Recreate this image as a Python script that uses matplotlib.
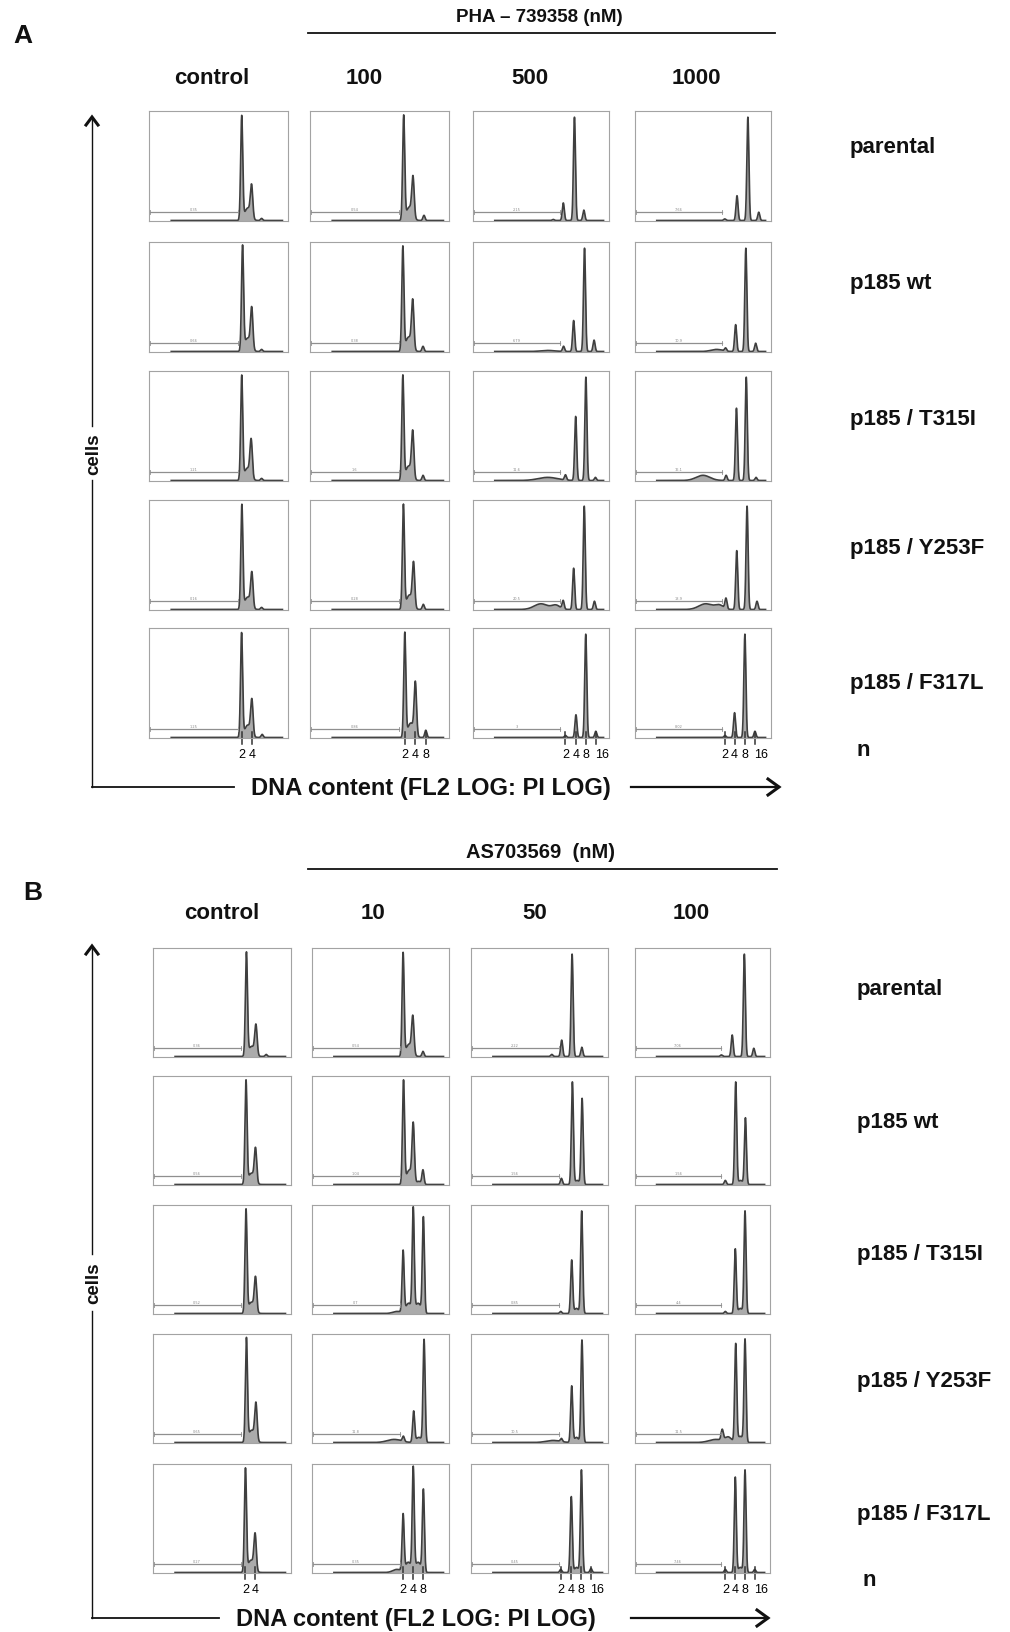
from __future__ import annotations

import matplotlib

matplotlib.use("Agg")
import matplotlib.pyplot as plt  # noqa: E402
import numpy as np  # noqa: E402

FIG_W = 1010
FIG_H = 1633

ROW_LABELS = ["parental", "p185 wt", "p185 / T315I", "p185 / Y253F", "p185 / F317L"]
PLOIDY_LABELS = ["2", "4", "8", "16"]

A_DRUG = "PHA \u2013 739358 (nM)"
A_DOSES = ["control", "100", "500", "1000"]
B_DRUG = "AS703569  (nM)"
B_DOSES = ["control", "10", "50", "100"]

# each histogram is a list of peaks: (channel 0-100, relative height, width)
A_PARENTAL = [
    [(66.7, 1.0, 0.75), (73.8, 0.30, 0.85), (71.0, 0.12, 2.2), (81.0, 0.02, 0.75)],
    [(67.4, 1.0, 0.75), (74.1, 0.37, 0.85), (71.5, 0.13, 2.2), (82.0, 0.05, 0.75)],
    [(59.0, 0.01, 0.8), (66.4, 0.17, 0.75), (74.6, 1.0, 0.75), (81.5, 0.10, 0.75)],
    [(66.0, 0.015, 0.8), (75.0, 0.24, 0.75), (83.0, 1.0, 0.75), (91.0, 0.08, 0.75)],
]
A_WT = [
    [(67.3, 1.0, 0.75), (73.9, 0.38, 0.85), (71.0, 0.13, 2.2), (81.0, 0.02, 0.75)],
    [(66.8, 1.0, 0.75), (73.9, 0.45, 0.85), (71.0, 0.14, 2.2), (81.3, 0.05, 0.75)],
    [(66.6, 0.05, 0.75), (74.0, 0.30, 0.75), (82.0, 1.0, 0.75), (89.0, 0.11, 0.75), (55.0, 0.01, 5.0)],
    [(66.6, 0.03, 0.75), (74.0, 0.26, 0.75), (81.5, 1.0, 0.75), (88.7, 0.08, 0.75), (60.0, 0.02, 4.0)],
]
A_T315I = [
    [(66.7, 1.0, 0.75), (73.5, 0.35, 0.85), (70.8, 0.12, 2.2), (81.0, 0.02, 0.75)],
    [(66.8, 1.0, 0.75), (73.9, 0.43, 0.85), (71.0, 0.14, 2.2), (81.3, 0.05, 0.75)],
    [(68.0, 0.05, 0.75), (75.5, 0.62, 0.75), (83.0, 1.0, 0.75), (90.0, 0.03, 0.75), (55.0, 0.03, 7.0)],
    [(67.0, 0.05, 0.75), (74.6, 0.70, 0.75), (81.8, 1.0, 0.75), (89.0, 0.03, 0.75), (50.0, 0.05, 5.0)],
]
A_Y253F = [
    [(66.8, 1.0, 0.75), (74.0, 0.32, 0.85), (71.0, 0.12, 2.2), (81.0, 0.02, 0.75)],
    [(67.2, 1.0, 0.75), (74.5, 0.41, 0.85), (71.5, 0.14, 2.2), (81.5, 0.05, 0.75)],
    [(66.3, 0.08, 0.75), (74.0, 0.40, 0.75), (81.8, 1.0, 0.75), (89.3, 0.08, 0.75),
     (50.0, 0.055, 5.0), (61.0, 0.04, 3.0)],
    [(66.9, 0.10, 0.75), (74.8, 0.57, 0.75), (82.4, 1.0, 0.75), (89.7, 0.08, 0.75),
     (52.0, 0.055, 5.0), (62.0, 0.04, 3.0)],
]
A_F317L = [
    [(66.6, 1.0, 0.75), (74.0, 0.33, 0.85), (71.0, 0.12, 2.2), (81.4, 0.03, 0.75)],
    [(68.2, 1.0, 0.75), (75.8, 0.50, 0.85), (72.5, 0.14, 2.2), (83.3, 0.07, 0.75)],
    [(68.0, 0.02, 0.75), (75.7, 0.22, 0.75), (82.9, 1.0, 0.75), (90.3, 0.06, 0.75)],
    [(66.2, 0.02, 0.75), (73.2, 0.24, 0.75), (80.8, 1.0, 0.75), (88.2, 0.06, 0.75)],
]
A_TICKS = [[66.6, 74.0], [68.2, 75.8, 83.3], [68.0, 75.7, 82.9, 90.3], [66.2, 73.2, 80.8, 88.2]]

B_PARENTAL = [
    [(67.7, 1.0, 0.75), (74.6, 0.28, 0.85), (71.5, 0.10, 2.2), (82.0, 0.02, 0.75)],
    [(66.5, 1.0, 0.75), (73.6, 0.35, 0.85), (70.8, 0.12, 2.2), (81.0, 0.05, 0.75)],
    [(59.0, 0.02, 0.8), (66.2, 0.16, 0.75), (73.8, 1.0, 0.75), (80.9, 0.09, 0.75)],
    [(64.0, 0.015, 0.8), (72.0, 0.21, 0.75), (81.0, 1.0, 0.75), (88.0, 0.08, 0.75)],
]
B_WT = [
    [(67.4, 1.0, 0.75), (74.3, 0.32, 0.85), (71.3, 0.11, 2.2)],
    [(66.8, 1.0, 0.75), (73.9, 0.55, 0.85), (81.0, 0.14, 0.75), (71.0, 0.14, 2.2), (78.0, 0.03, 1.5)],
    [(66.0, 0.06, 0.75), (74.0, 1.0, 0.75), (81.1, 0.84, 0.75), (77.5, 0.04, 1.5)],
    [(66.9, 0.04, 0.75), (74.6, 1.0, 0.75), (81.8, 0.65, 0.75), (78.2, 0.04, 1.5)],
]
B_T315I = [
    [(67.4, 1.0, 0.75), (74.3, 0.32, 0.85), (71.3, 0.11, 2.2)],
    [(66.5, 0.60, 0.75), (73.9, 1.0, 0.75), (81.3, 0.93, 0.75), (70.5, 0.10, 2.0),
     (77.5, 0.10, 2.0), (62.0, 0.02, 3.0)],
    [(65.5, 0.02, 0.75), (73.5, 0.52, 0.75), (80.8, 1.0, 0.75), (77.0, 0.05, 1.5)],
    [(66.9, 0.02, 0.75), (74.3, 0.63, 0.75), (81.5, 1.0, 0.75), (78.0, 0.05, 1.5)],
]
B_Y253F = [
    [(67.7, 1.0, 0.75), (74.6, 0.35, 0.85), (71.5, 0.12, 2.2)],
    [(66.7, 0.05, 0.75), (74.2, 0.30, 0.75), (81.8, 1.0, 0.75), (60.0, 0.03, 5.0), (78.0, 0.05, 2.0)],
    [(66.0, 0.03, 0.75), (73.5, 0.55, 0.75), (81.0, 1.0, 0.75), (60.0, 0.02, 5.0), (77.0, 0.05, 1.5)],
    [(64.6, 0.10, 0.8), (74.6, 0.95, 0.75), (81.5, 1.0, 0.75), (60.0, 0.03, 5.0),
     (78.0, 0.06, 2.0), (69.0, 0.05, 2.5)],
]
B_F317L = [
    [(67.0, 1.0, 0.75), (74.0, 0.34, 0.85), (71.0, 0.12, 2.2)],
    [(66.5, 0.55, 0.75), (73.9, 1.0, 0.75), (81.3, 0.80, 0.75), (70.3, 0.10, 2.0),
     (77.5, 0.10, 2.0), (62.0, 0.03, 3.0)],
    [(65.5, 0.03, 0.75), (73.2, 0.74, 0.75), (80.6, 1.0, 0.75), (87.6, 0.04, 0.75), (77.0, 0.05, 1.5)],
    [(66.9, 0.03, 0.75), (74.3, 0.93, 0.75), (81.5, 1.0, 0.75), (88.7, 0.03, 0.75), (78.0, 0.05, 1.5)],
]
B_TICKS = [[67.0, 74.0], [66.5, 73.9, 81.3], [65.5, 73.2, 80.6, 87.6], [66.9, 74.3, 81.5, 88.7]]

# tiny marker-gate readouts printed inside each histogram
A_GATES = ["0.35", "0.54", "2.15", "7.66", "0.66", "0.38", "6.79", "10.9", "1.21", "1.6",
           "11.6", "16.1", "0.16", "0.28", "20.5", "18.9", "1.25", "0.86", "3", "8.02"]
B_GATES = ["0.36", "0.54", "2.22", "7.06", "0.56", "1.04", "1.56", "1.56", "0.52", "0.7",
           "0.85", "4.4", "0.65", "11.8", "10.5", "11.5", "0.27", "0.35", "0.45", "7.46"]

FONT = ["Liberation Sans", "DejaVu Sans"]
INK = "#111111"


def _rect(left: float, top: float, right: float, bottom: float) -> list[float]:
    return [left / FIG_W, 1 - bottom / FIG_H, (right - left) / FIG_W, (bottom - top) / FIG_H]


def _curve(x: np.ndarray, peaks: list[tuple[float, float, float]]) -> np.ndarray:
    y = np.full_like(x, 0.005)
    for pos, height, width in peaks:
        y += height * np.exp(-0.5 * ((x - pos) / width) ** 2)
    return y


def _draw_hist(fig, rect, peaks, gate, ticks=None) -> None:
    ax = fig.add_axes(rect)
    x = np.linspace(16, 96, 2000)
    y = _curve(x, peaks)
    ax.fill_between(x, 0, y, color="#ababab", lw=0)
    ax.plot(x, y, color="#3f3f3f", lw=1.2)
    ax.plot([0.8, 64], [0.085, 0.085], color="#8f8f8f", lw=0.9)
    for gx in (0.8, 64):
        ax.plot([gx, gx], [0.065, 0.105], color="#8f8f8f", lw=0.6)
    ax.text(32, 0.1, gate, fontsize=2.5, ha="center", va="bottom", color="#888888")
    ax.set_xlim(0, 100)
    ax.set_ylim(0, 1.065)
    ax.set_xticks([])
    ax.set_yticks([])
    for spine in ax.spines.values():
        spine.set_color("#a3a3a3")
        spine.set_linewidth(0.8)
    if ticks:
        for t, lab in zip(ticks, PLOIDY_LABELS):
            ax.plot([t, t], [-0.06, 0.06], color="#333333", lw=1.1, clip_on=False)
            if lab == "16":
                ax.text(t - 0.6, -0.1, lab, fontsize=9, ha="left", va="top", family=FONT)
            else:
                ax.text(t, -0.1, lab, fontsize=9, ha="center", va="top", family=FONT)


def _draw_panel(fig, ov, rows, ticks, gates, cols, tops, height, lay) -> None:
    for r, row in enumerate(rows):
        for c, peaks in enumerate(row):
            left, right = cols[c]
            rect = _rect(left, tops[r], right, tops[r] + height)
            tk = ticks[c] if r == len(rows) - 1 else None
            _draw_hist(fig, rect, peaks, gates[r * 4 + c], tk)

    bold = dict(fontweight="bold", family=FONT, color=INK)
    ov.text(*lay["letter"], lay["letter_txt"], fontsize=19, ha="center", va="center", **bold)
    ov.text(*lay["drug"], lay["drug_txt"], fontsize=lay["drug_size"], ha="center", va="center", **bold)
    ov.plot(lay["drug_line"], [lay["drug_line_y"]] * 2, color=INK, lw=1.3)
    for x, dose in zip(lay["head_x"], lay["doses"]):
        ov.text(x, lay["head_y"], dose, fontsize=16, ha="center", va="center", **bold)
    for y, lab in zip(lay["row_y"], ROW_LABELS):
        ov.text(lay["row_x"], y, lab, fontsize=16, ha="left", va="center", **bold)
    ov.text(lay["n"][0], lay["n"][1], "n", fontsize=16, ha="left", va="center", **bold)

    ax_x = 92
    top, bottom = lay["yaxis"]
    gap_top, gap_bottom = lay["gap"]
    ov.plot([ax_x, ax_x], [bottom, gap_bottom], color=INK, lw=1.0)
    ov.plot([ax_x, ax_x], [gap_top, top], color=INK, lw=1.0)
    ov.plot([ax_x - 6, ax_x, ax_x + 6], [top + 8, top, top + 8], color=INK, lw=2.2,
            solid_joinstyle="miter")
    ov.text(ax_x + 2, lay["cells_y"], "cells", fontsize=13.5, rotation=90,
            ha="center", va="center", **bold)

    line_end, txt_x, arrow_start, arrow_end = lay["xaxis"]
    ov.plot([ax_x, line_end], [bottom, bottom], color=INK, lw=1.3)
    ov.text(txt_x, bottom + 1, "DNA content (FL2 LOG: PI LOG)", fontsize=17,
            ha="center", va="center", **bold)
    ov.plot([arrow_start, arrow_end], [bottom, bottom], color=INK, lw=1.6)
    ov.plot([arrow_end - 11, arrow_end, arrow_end - 11], [bottom - 8, bottom, bottom + 8],
            color=INK, lw=2.2, solid_joinstyle="miter")


def main() -> None:
    fig = plt.figure(figsize=(FIG_W / 100, FIG_H / 100), dpi=100)
    fig.patch.set_facecolor("white")
    ov = fig.add_axes([0, 0, 1, 1])
    ov.set_xlim(0, FIG_W)
    ov.set_ylim(FIG_H, 0)
    ov.axis("off")

    lay_a = {
        "letter": (23, 36), "letter_txt": "A",
        "drug": (539, 17), "drug_txt": A_DRUG, "drug_size": 13.5,
        "drug_line": [308, 775], "drug_line_y": 34,
        "head_x": [212, 364, 530, 696], "head_y": 78, "doses": A_DOSES,
        "row_x": 850, "row_y": [148, 283, 420, 549, 684], "n": (856, 751),
        "yaxis": (118, 788), "gap": (427, 481), "cells_y": 454,
        "xaxis": (234, 431, 631, 779),
    }
    lay_b = {
        "letter": (33, 893), "letter_txt": "B",
        "drug": (540, 853), "drug_txt": B_DRUG, "drug_size": 14.5,
        "drug_line": [308, 777], "drug_line_y": 870,
        "head_x": [222, 373, 535, 691], "head_y": 914, "doses": B_DOSES,
        "row_x": 857, "row_y": [990, 1123, 1255, 1382, 1515], "n": (863, 1581),
        "yaxis": (947, 1619), "gap": (1255, 1312), "cells_y": 1283,
        "xaxis": (219, 416, 631, 768),
    }

    _draw_panel(fig, ov, [A_PARENTAL, A_WT, A_T315I, A_Y253F, A_F317L], A_TICKS, A_GATES,
                [(149, 288), (310, 449), (473, 609), (635, 771)],
                [112, 243, 372, 501, 629], 110, lay_a)
    _draw_panel(fig, ov, [B_PARENTAL, B_WT, B_T315I, B_Y253F, B_F317L], B_TICKS, B_GATES,
                [(153, 291), (312, 449), (471, 608), (635, 770)],
                [949, 1077, 1206, 1335, 1465], 109, lay_b)

    fig.savefig("out.png", dpi=100, facecolor="white")
    plt.close(fig)


if __name__ == "__main__":
    main()
